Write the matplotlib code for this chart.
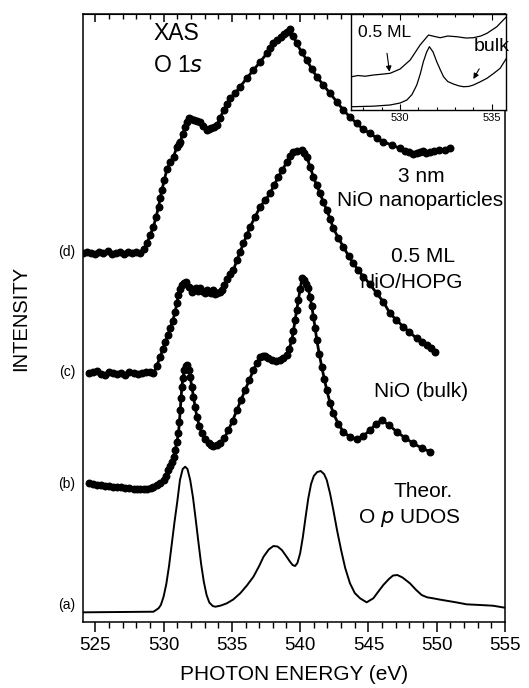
import matplotlib
matplotlib.use('Agg')
import matplotlib.pyplot as plt
from matplotlib.ticker import MultipleLocator

plt.rcParams['font.family'] = ['Liberation Sans', 'DejaVu Sans']

# (a) theoretical O p UDOS
Ea = [524.1, 529.26, 529.63, 529.8, 530.0, 530.2, 530.4, 530.6, 530.8, 531.0,
      531.2, 531.4, 531.58, 531.75, 531.95, 532.15, 532.35, 532.55, 532.75, 532.95,
      533.15, 533.35, 533.6, 533.8, 534.2, 534.63, 535.1, 535.61, 536.1, 536.58,
      537.0, 537.32, 537.7, 538.04, 538.35, 538.66, 538.95, 539.26, 539.45, 539.63,
      539.8, 540.0, 540.2, 540.4, 540.6, 540.8, 541.0, 541.25, 541.51, 541.75,
      541.95, 542.2, 542.43, 542.7, 543.0, 543.3, 543.65, 544.0, 544.39, 544.87,
      545.36, 545.7, 546.09, 546.5, 546.8, 547.12, 547.5, 548.04, 548.5, 548.9,
      549.3, 549.74, 550.2, 550.72, 551.5, 552.18, 553.2, 554.13, 555.0]
Ia = [9.7, 10.3, 13.7, 17, 25.3, 38, 56, 78, 100, 120,
      142, 153, 155.3, 153, 142, 125, 103, 80, 58, 40,
      27, 19.5, 16, 15.3, 16.5, 18.7, 22.5, 28.7, 36.5, 45.3,
      56, 65.3, 72.5, 76, 75.5, 72, 66.5, 60.3, 57, 56,
      59, 68.7, 85, 105, 124, 138, 146, 150, 151, 148,
      142, 128, 112, 92, 72, 54, 38.7, 29, 23.7, 19.7,
      23.7, 30, 37, 43, 46.5, 47, 44.5, 38.7, 32, 27,
      24.7, 23.7, 22.5, 21.3, 19.5, 17.7, 17, 16.3, 14.3]

# (b) NiO bulk
Eb = [524.51, 524.8, 525.1, 525.4, 525.7, 526.0, 526.3, 526.59, 526.9, 527.2,
      527.5, 527.8, 528.05, 528.29, 528.55, 528.8, 529.05, 529.26, 529.5, 529.75,
      530.0, 530.2, 530.36, 530.5, 530.61, 530.73, 530.85, 530.97, 531.09, 531.16,
      531.22, 531.28, 531.34, 531.42, 531.51, 531.61, 531.71, 531.83, 531.95, 532.07,
      532.19, 532.31, 532.44, 532.62, 532.81, 533.05, 533.29, 533.47, 533.65, 533.9,
      534.14, 534.45, 534.75, 535.06, 535.37, 535.67, 535.97, 536.28, 536.58, 536.83,
      537.07, 537.25, 537.44, 537.68, 537.93, 538.23, 538.53, 538.78, 539.02, 539.2,
      539.39, 539.51, 539.63, 539.75, 539.87, 540.0, 540.14, 540.29, 540.43, 540.58,
      540.73, 540.85, 540.97, 541.1, 541.22, 541.4, 541.58, 541.77, 541.95, 542.19,
      542.43, 542.8, 543.16, 543.65, 544.14, 544.63, 545.12, 545.55, 545.97, 546.5,
      547.07, 547.7, 548.28, 548.9, 549.51]
Ib = [138.7, 138, 137.5, 137, 136.5, 136, 135.5, 135.3, 134.8, 134.3,
      134, 133.4, 133, 132.7, 133, 133.5, 134.3, 135.3, 137, 139,
      142, 146, 152, 156, 160.3, 165, 172, 180, 188.7, 200,
      212, 224, 235.3, 244, 252, 256, 257, 252, 245.3, 235,
      225.3, 215, 205.3, 196, 188.7, 183, 178.7, 177, 176, 177,
      178.7, 184, 192, 201.5, 212, 222, 232, 242, 252, 259,
      264.7, 266, 266, 264, 262, 261.5, 262, 264, 267, 273,
      282, 291, 302, 312, 322, 333, 343.7, 342, 338, 334,
      325, 316, 305.3, 294, 282, 268, 255.3, 243, 232, 219,
      208.7, 198, 190.3, 185, 183, 186, 192, 198, 202, 197,
      190.3, 184, 178.7, 174, 170.3]

# (c) 0.5 ML NiO/HOPG
Ec = [524.51, 524.8, 525.1, 525.4, 525.7, 526.0, 526.3, 526.6, 526.9, 527.2,
      527.5, 527.8, 528.1, 528.4, 528.7, 529.0, 529.26, 529.5, 529.75, 529.95,
      530.12, 530.3, 530.49, 530.67, 530.85, 530.97, 531.09, 531.22, 531.34, 531.5,
      531.66, 531.87, 532.07, 532.25, 532.4, 532.55, 532.68, 532.85, 533.0, 533.15,
      533.29, 533.45, 533.6, 533.75, 533.9, 534.1, 534.27, 534.45, 534.63, 534.87,
      535.12, 535.37, 535.6, 535.85, 536.1, 536.34, 536.7, 537.07, 537.45, 537.8,
      538.1, 538.41, 538.7, 539.02, 539.25, 539.51, 539.8, 540.12, 540.3, 540.49,
      540.73, 540.97, 541.2, 541.46, 541.7, 541.95, 542.2, 542.43, 542.8, 543.16,
      543.55, 543.9, 544.25, 544.63, 545.1, 545.61, 546.1, 546.58, 547.05, 547.55,
      548.0, 548.53, 548.9, 549.26, 549.6, 549.87]
Ic = [248.7, 250, 251, 248, 247, 250, 249.5, 248, 249, 247.5,
      250.5, 249, 248, 249.5, 250.5, 250, 248.7, 256, 265.3, 273,
      280.3, 287, 293.7, 301, 310.3, 319, 327, 333, 337, 339,
      340.3, 335, 330.3, 333, 334, 331, 333.7, 331, 329, 332,
      330.3, 329, 332, 328, 328.7, 330, 332, 337, 343.3, 348,
      352, 362, 370, 378.7, 387, 395.3, 405, 415.3, 422, 428.7,
      437, 445.3, 452, 460, 466, 470.3, 471, 472, 469, 465.3,
      455, 445.3, 437, 428.7, 420, 412, 403, 393.7, 384, 375.3,
      366, 358.7, 352, 345.3, 338, 328.7, 320, 308.7, 302, 295.3,
      290, 283.7, 280, 277, 274, 270.3]

# (d) 3 nm NiO nanoparticles
Ed = [524.1, 524.4, 524.7, 525.0, 525.3, 525.6, 525.9, 526.2, 526.5, 526.8,
      527.1, 527.4, 527.7, 528.0, 528.29, 528.55, 528.78, 529.02, 529.26, 529.45,
      529.63, 529.76, 529.88, 530.05, 530.25, 530.5, 530.73, 530.98, 531.1, 531.22,
      531.4, 531.58, 531.7, 531.83, 532.0, 532.2, 532.45, 532.68, 532.9, 533.17,
      533.35, 533.5, 533.7, 533.9, 534.15, 534.39, 534.63, 534.88, 535.25, 535.61,
      536.1, 536.58, 537.07, 537.56, 537.8, 538.04, 538.3, 538.6, 538.8, 539.02,
      539.26, 539.5, 539.75, 540.1, 540.49, 540.85, 541.22, 541.7, 542.19, 542.7,
      543.16, 543.65, 544.14, 544.6, 545.12, 545.6, 546.09, 546.7, 547.31, 547.7,
      548.0, 548.3, 548.53, 548.8, 549.0, 549.25, 549.51, 549.8, 550.2, 550.6,
      550.97]
Id = [368.7, 370, 369, 368, 370.5, 369.5, 371, 368.5, 369.5, 370.5,
      368.5, 370, 369, 370.5, 368.7, 373, 378.7, 387, 395.3, 405,
      415.3, 424, 432, 442, 453, 460, 465.3, 475.3, 478, 480.3,
      488, 495.3, 500, 503.7, 503, 502, 501, 500.3, 496, 492,
      493, 494, 495, 497, 504, 512, 518, 523.7, 529, 535.3,
      544, 552, 560, 568.7, 574, 578.7, 582, 585, 588, 590.3,
      592.7, 586, 578.7, 570, 562, 553, 545.3, 537, 528.7, 520,
      512, 505, 498.7, 493, 488.7, 484, 480.3, 477, 473.7, 471,
      470, 468, 468.7, 470.5, 471, 469, 470.3, 471.5, 472, 472.5,
      473.7]

# inset
E_bulk = [527.36, 528.5, 529.45, 530.0, 530.37, 530.65, 530.91, 531.1, 531.27, 531.45,
          531.6, 531.8, 532.0, 532.2, 532.37, 532.6, 532.91, 533.2, 533.46, 533.75,
          534.0, 534.35, 534.74, 535.1, 535.46, 535.78]
I_bulk = [3.3, 3.8, 5, 7, 10, 15.5, 25, 36, 48.3, 58,
          63.3, 58, 48.3, 40, 33.3, 28.5, 26, 24.2, 23.3, 23.6,
          25, 28, 31.7, 36.5, 41.7, 51]
E_ml = [527.36, 527.7, 528.1, 528.54, 529.0, 529.45, 530.0, 530.55, 531.09, 531.55,
        531.9, 532.19, 532.6, 533.1, 533.6, 534.0, 534.4, 534.74, 535.28, 535.79]
I_ml = [33.3, 34.5, 33.8, 35, 35.8, 36.7, 41, 50, 65, 75,
        73.5, 72.3, 74, 73.3, 72, 72.3, 74, 76.7, 83.3, 93]

fig = plt.figure(figsize=(5.29, 6.88), dpi=100)
ax = fig.add_axes([0.1569, 0.0959, 0.7977, 0.8837])

ax.plot(Ea, Ia, 'k-', lw=1.4)
for E, I in [(Eb, Ib), (Ec, Ic), (Ed, Id)]:
    ax.plot(E, I, 'k-', lw=2.0, marker='o', ms=4.7, mfc='k', mec='k')

ax.set_xlim(524.1, 555)
ax.set_ylim(0, 608)
ax.set_yticks([])
ax.xaxis.set_major_locator(MultipleLocator(5))
ax.xaxis.set_minor_locator(MultipleLocator(1))
ax.tick_params(axis='x', which='major', direction='out', length=7, width=1.1, labelsize=13.5, pad=4)
ax.tick_params(axis='x', which='minor', direction='out', length=4, width=1.0)
for s in ax.spines.values():
    s.set_linewidth(1.1)

top = ax.secondary_xaxis('top')
top.xaxis.set_major_locator(MultipleLocator(5))
top.xaxis.set_minor_locator(MultipleLocator(1))
top.tick_params(which='major', direction='in', length=6, width=1.1, labeltop=False)
top.tick_params(which='minor', direction='in', length=3.5, width=1.0)

ax.set_xlabel('PHOTON ENERGY (eV)', fontsize=15, labelpad=8)
ax.set_ylabel('INTENSITY', fontsize=14.5, labelpad=38)

ax.text(530.93, 588.7, 'XAS', fontsize=16.5, ha='center', va='center')
ax.text(531.05, 557, 'O 1$\\mathit{s}$', fontsize=16.5, ha='center', va='center')
ax.text(548.9, 445.3, '3 nm', fontsize=15, ha='center', va='center')
ax.text(548.77, 422, 'NiO nanoparticles', fontsize=15, ha='center', va='center')
ax.text(549.0, 366, '0.5 ML', fontsize=15, ha='center', va='center')
ax.text(548.15, 339.5, 'NiO/HOPG', fontsize=15, ha='center', va='center')
ax.text(548.87, 230.3, 'NiO (bulk)', fontsize=15, ha='center', va='center')
ax.text(548.99, 130.3, 'Theor.', fontsize=15, ha='center', va='center')
ax.text(548.01, 103.7, 'O $\\mathit{p}$ UDOS', fontsize=15, ha='center', va='center')

for lab, yv in [('(a)', 17), ('(b)', 137.7), ('(c)', 250.3), ('(d)', 370.3)]:
    ax.text(522.93, yv, lab, fontsize=10, ha='center', va='center', clip_on=False)

ins = fig.add_axes([0.6635, 0.8401, 0.293, 0.1395])
ins.plot(E_bulk, I_bulk, 'k-', lw=0.9)
ins.plot(E_ml, I_ml, 'k-', lw=0.9)
ins.set_xlim(527.32, 535.78)
ins.set_ylim(0, 96)
ins.set_yticks([])
ins.xaxis.set_major_locator(MultipleLocator(5))
ins.xaxis.set_minor_locator(MultipleLocator(1))
ins.tick_params(axis='x', which='both', direction='in', top=True, labelsize=8, pad=2)
ins.tick_params(axis='x', which='major', length=4, width=0.8)
ins.tick_params(axis='x', which='minor', length=2.5, width=0.8)
for s in ins.spines.values():
    s.set_linewidth(1.0)
ins.annotate('0.5 ML', xy=(529.42, 38.3), xytext=(529.13, 78), fontsize=12.5,
             ha='center', va='center',
             arrowprops=dict(arrowstyle='-|>', color='k', lw=0.8, shrinkA=8, shrinkB=0, mutation_scale=8))
ins.annotate('bulk', xy=(534.0, 31), xytext=(535.01, 63.3), fontsize=14,
             ha='center', va='center',
             arrowprops=dict(arrowstyle='-|>', color='k', lw=0.8, shrinkA=9, shrinkB=0, mutation_scale=8))

fig.savefig('out.png', dpi=100)
